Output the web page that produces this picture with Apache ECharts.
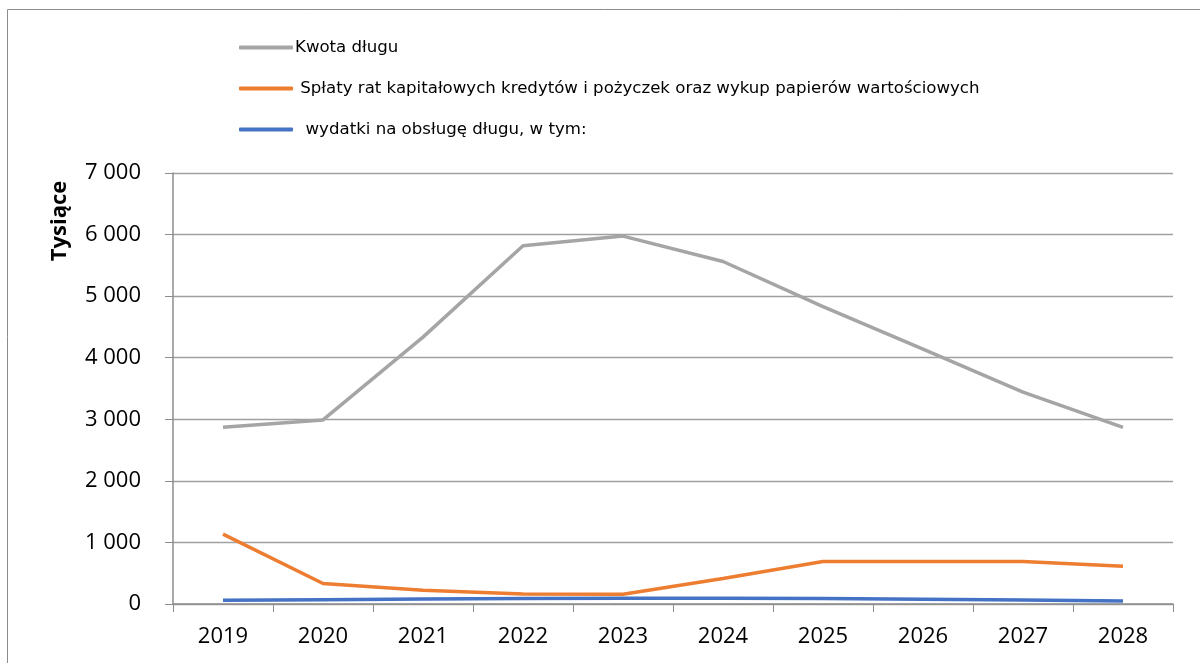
<!DOCTYPE html>
<html>
<head>
<meta charset="utf-8">
<script src="https://cdn.jsdelivr.net/npm/echarts@6/dist/echarts.min.js"></script>
<style>
html, body { margin: 0; padding: 0; background: #fff; }
#main { width: 1200px; height: 663px; }
</style>
</head>
<body>
<div id="main"></div>
<script>
var years = ['2019', '2020', '2021', '2022', '2023', '2024', '2025', '2026', '2027', '2028'];
var kwotaDlugu = [2870, 2990, 4335, 5818, 5975, 5563, 4830, 4140, 3440, 2870];
var splatyRat = [1135, 333, 224, 164, 159, 414, 691, 691, 691, 615];
var wydatki = [60, 70, 80, 90, 95, 94, 88, 76, 65, 50];
var yTicks = [0, 1000, 2000, 3000, 4000, 5000, 6000, 7000];

var names = ['Kwota długu', ' Spłaty rat kapitałowych kredytów i pożyczek oraz wykup papierów wartościowych', '  wydatki na obsługę długu, w tym:'];
var colors = ['#A5A5A5', '#ED7D31', '#4472C4'];
var font = '"Open Sans", "Noto Sans", sans-serif';

function fmt(v) {
	return String(v).replace(/\B(?=(\d{3})+(?!\d))/g, ' ');
}

var myChart = echarts.init(document.getElementById('main'));

var option = {
	animation: false,
	backgroundColor: '#fff',
	color: colors,
	graphic: [
		{
			type: 'rect',
			shape: { x: 7.5, y: 9.5, width: 1300, height: 700 },
			style: { fill: 'none', stroke: '#8c8c8c', lineWidth: 1 }
		},
		{
			type: 'text',
			x: 60, y: 221,
			rotation: Math.PI / 2,
			style: {
				text: 'Tysiące',
				font: 'bold 22px ' + font,
				fill: '#000',
				align: 'center',
				verticalAlign: 'middle'
			}
		}
	],
	legend: {
		orient: 'vertical',
		left: 234,
		top: 34,
		itemGap: 24,
		itemWidth: 54,
		itemHeight: 4,
		icon: 'roundRect',
		textStyle: { fontFamily: '"DejaVu Sans", sans-serif', fontSize: 16.6, color: '#000', padding: [0, 0, 0, -3] },
		data: names
	},
	grid: { left: 173, right: 27, top: 173, bottom: 59 },
	xAxis: {
		type: 'category',
		data: years,
		boundaryGap: true,
		axisLine: { lineStyle: { color: '#8c8c8c', width: 1.5 } },
		axisTick: { show: true, length: 8, alignWithLabel: false, lineStyle: { color: '#8c8c8c' } },
		axisLabel: { color: '#000', fontSize: 22, fontFamily: font, margin: 22 }
	},
	yAxis: {
		type: 'value',
		min: 0,
		max: 7000,
		interval: 1000,
		axisLine: { show: true, lineStyle: { color: '#8c8c8c', width: 1.5 } },
		axisTick: { show: true, length: 8, inside: false, lineStyle: { color: '#8c8c8c' } },
		splitLine: { lineStyle: { color: '#a0a0a0', width: 1.3 } },
		axisLabel: {
			color: '#000', fontSize: 22, fontFamily: font, margin: 32,
			formatter: function (v) { return yTicks.indexOf(v) >= 0 ? fmt(v) : ''; }
		}
	},
	series: [
		{ name: names[0], type: 'line', data: kwotaDlugu, showSymbol: false, lineStyle: { width: 3.5, color: colors[0] } },
		{ name: names[1], type: 'line', data: splatyRat, showSymbol: false, lineStyle: { width: 3.5, color: colors[1] } },
		{ name: names[2], type: 'line', data: wydatki, showSymbol: false, lineStyle: { width: 3.5, color: colors[2] } }
	]
};

myChart.setOption(option);
</script>
</body>
</html>
